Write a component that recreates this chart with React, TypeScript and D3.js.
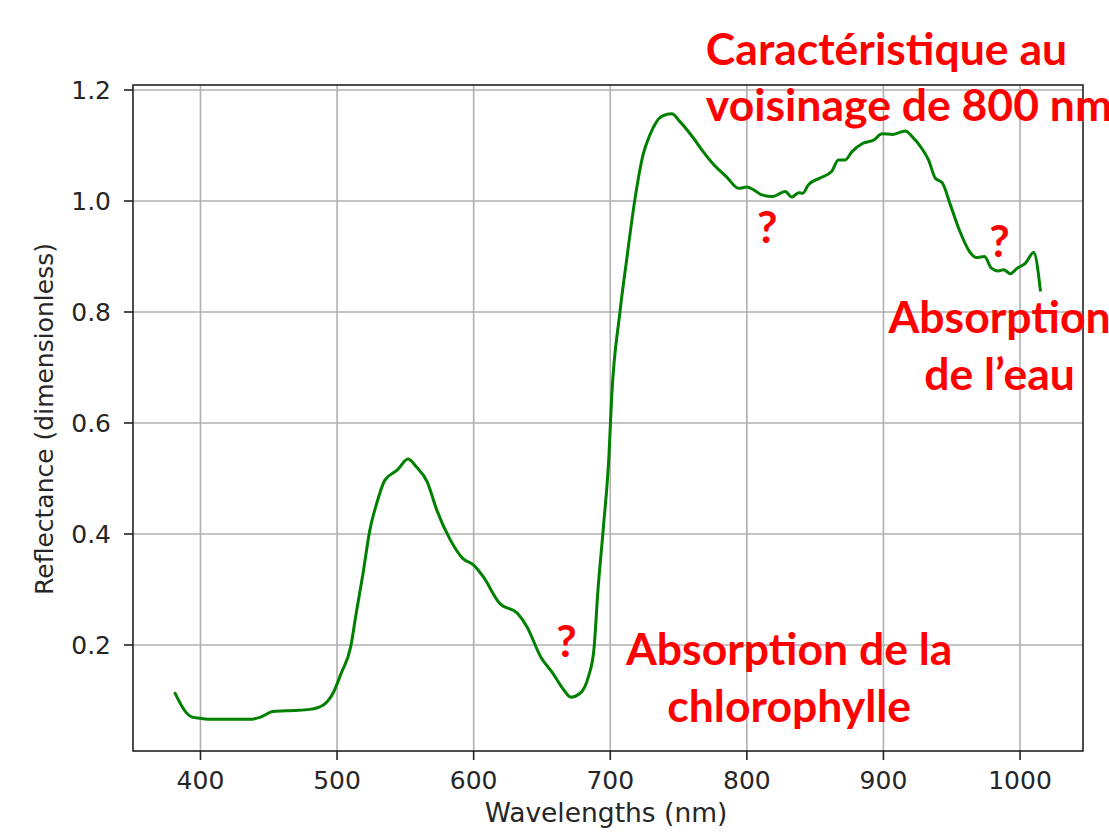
import * as d3 from "d3";
import React from "react";

// spectre de réflectance d'une feuille
const wavelengths = [
  381, 389, 394, 400, 407, 422, 436, 444, 453, 468, 480, 490, 497, 503, 510,
  514, 519, 524, 529, 535, 544, 552, 558, 566, 573, 583, 592, 600, 607, 619,
  632, 639, 649, 658, 666, 671, 678, 684, 688, 691, 695, 699, 701, 707, 712,
  718, 724, 729, 738, 745, 751, 761, 768, 776, 785, 794, 800, 805, 811, 819,
  828, 833, 838, 841, 845, 854, 862, 867, 872, 877, 885, 893, 899, 907, 916,
  921, 928, 933, 938, 943, 949, 956, 963, 968, 974, 979, 984, 988, 993, 998,
  1004, 1010, 1015,
];
const reflectance = [
  0.115, 0.08, 0.07, 0.068, 0.066, 0.066, 0.066, 0.07, 0.08, 0.082, 0.084,
  0.092, 0.113, 0.149, 0.197, 0.257, 0.329, 0.407, 0.455, 0.497, 0.515, 0.535,
  0.521, 0.494, 0.443, 0.389, 0.356, 0.344, 0.323, 0.275, 0.257, 0.233, 0.179,
  0.149, 0.119, 0.106, 0.113, 0.143, 0.191, 0.299, 0.413, 0.539, 0.645, 0.798,
  0.894, 1.002, 1.083, 1.119, 1.153, 1.157, 1.143, 1.113, 1.089, 1.065, 1.044,
  1.023, 1.025, 1.02, 1.011, 1.008, 1.017, 1.007, 1.015, 1.014, 1.029, 1.042,
  1.053, 1.074, 1.074, 1.089, 1.104, 1.11, 1.121, 1.12, 1.126, 1.116, 1.095,
  1.074, 1.041, 1.033, 0.993, 0.945, 0.909, 0.898, 0.9, 0.879, 0.874, 0.876,
  0.869, 0.879, 0.888, 0.907, 0.837,
];

const xTicks = [400, 500, 600, 700, 800, 900, 1000];
const yTicks = [0.2, 0.4, 0.6, 0.8, 1.0, 1.2];

// annotations (coordonnées en unités des données)
const notes = [
  { text: "Caractéristique au", x: 770, y: 1.245, anchor: "start" },
  { text: "voisinage de 800 nm", x: 770, y: 1.144, anchor: "start" },
  { text: "?", x: 815, y: 0.924, anchor: "middle" },
  { text: "?", x: 985, y: 0.899, anchor: "middle" },
  { text: "Absorption", x: 985, y: 0.762, anchor: "middle" },
  { text: "de l’eau", x: 985, y: 0.659, anchor: "middle" },
  { text: "?", x: 668, y: 0.178, anchor: "middle" },
  { text: "Absorption de la", x: 831, y: 0.164, anchor: "middle" },
  { text: "chlorophylle", x: 831, y: 0.061, anchor: "middle" },
];

export default function App() {
  const WIDTH = 1109;
  const HEIGHT = 832;
  const left = 133, right = 1083, top = 85, bottom = 751;

  const xScale = d3.scaleLinear().domain([350.6, 1046.1]).range([left, right]);
  const yScale = d3.scaleLinear().domain([0.009, 1.209]).range([bottom, top]);

  const data = wavelengths.map((w, i) => ({ x: w, y: reflectance[i] }));
  const line = d3
    .line<{ x: number; y: number }>()
    .x(d => xScale(d.x))
    .y(d => yScale(d.y))
    .curve(d3.curveMonotoneX);

  const labelFont = "DejaVu Sans, sans-serif";

  return (
    <svg
      width={WIDTH}
      height={HEIGHT}
      style={{ position: "absolute", left: 0, top: 0, background: "#fff" }}
    >
      <rect width={WIDTH} height={HEIGHT} fill="#fff" />

      {/* grille */}
      <g stroke="#b0b0b0" strokeWidth={1.6}>
        {xTicks.map(t => (
          <line key={t} x1={xScale(t)} x2={xScale(t)} y1={top} y2={bottom} />
        ))}
        {yTicks.map(t => (
          <line key={t} x1={left} x2={right} y1={yScale(t)} y2={yScale(t)} />
        ))}
      </g>

      {/* courbe */}
      <path d={line(data) || ""} fill="none" stroke="#008000" strokeWidth={3} strokeLinejoin="round" />

      {/* cadre */}
      <rect x={left} y={top} width={right - left} height={bottom - top} fill="none" stroke="#222" strokeWidth={1.6} />

      {/* axe x */}
      <g fontFamily={labelFont} fontSize={25} fill="#262626">
        {xTicks.map(t => (
          <g key={t}>
            <line x1={xScale(t)} x2={xScale(t)} y1={bottom} y2={bottom + 9} stroke="#222" strokeWidth={1.6} />
            <text x={xScale(t)} y={789} textAnchor="middle">{t}</text>
          </g>
        ))}
        <text x={606} y={822} textAnchor="middle" fontSize={26.5}>Wavelengths (nm)</text>
      </g>

      {/* axe y */}
      <g fontFamily={labelFont} fontSize={25} fill="#262626">
        {yTicks.map(t => (
          <g key={t}>
            <line x1={left - 9} x2={left} y1={yScale(t)} y2={yScale(t)} stroke="#222" strokeWidth={1.6} />
            <text x={111} y={yScale(t)} dy="0.36em" textAnchor="end">{t.toFixed(1)}</text>
          </g>
        ))}
        <text transform={`translate(53, 419) rotate(-90)`} textAnchor="middle">
          Reflectance (dimensionless)
        </text>
      </g>

      {/* annotations en rouge */}
      <g fontFamily="Lato, sans-serif" fontWeight={700} fontSize={44.5} fill="#ff0000">
        {notes.map((n, i) => (
          <text key={i} x={xScale(n.x)} y={yScale(n.y)} textAnchor={n.anchor as any}>
            {n.text}
          </text>
        ))}
      </g>
    </svg>
  );
}
